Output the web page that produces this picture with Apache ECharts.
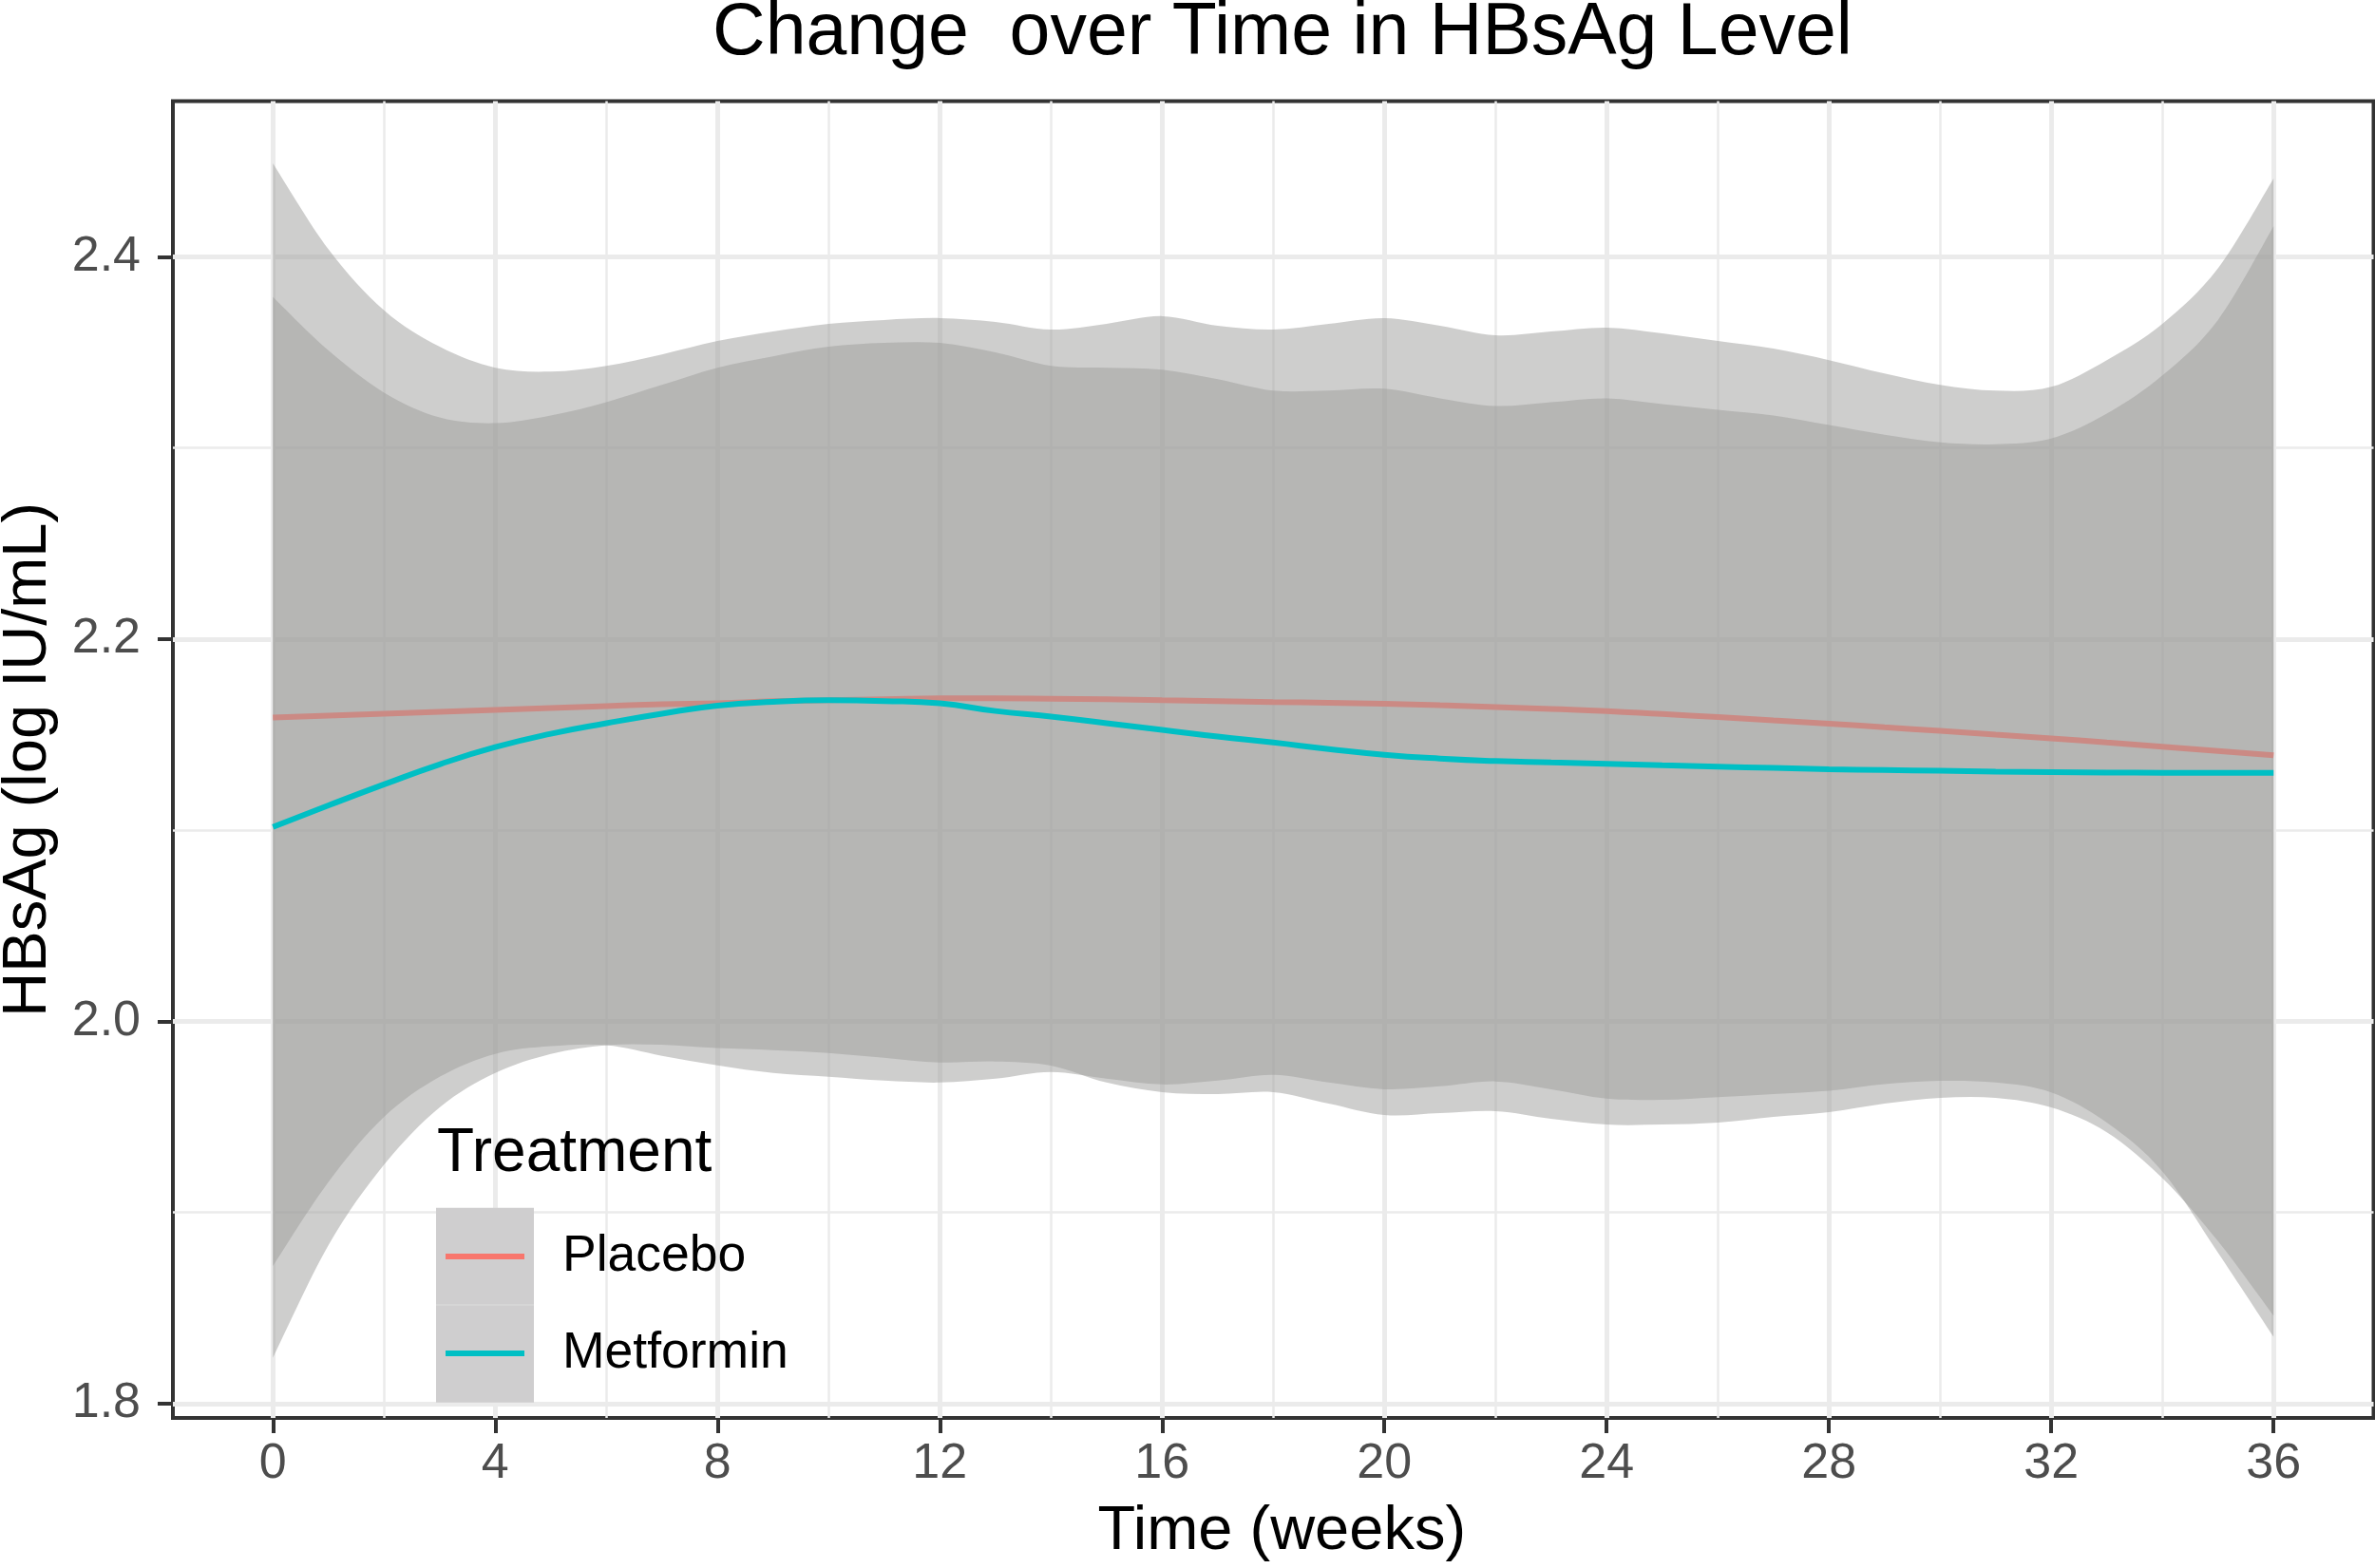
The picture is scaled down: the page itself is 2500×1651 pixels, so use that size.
<!DOCTYPE html>
<html>
<head>
<meta charset="utf-8">
<script src="https://cdn.jsdelivr.net/npm/echarts@6.0.0/dist/echarts.min.js"></script>
<style>
html,body{margin:0;padding:0;background:#ffffff;}
#chart{width:2500px;height:1651px;}
</style>
</head>
<body>
<div id="chart"></div>
<script>
// ---- data ----
const weeks = [0,1,2,3,4,5,6,7,8,9,10,11,12,13,14,15,16,17,18,19,20,21,22,23,24,25,26,27,28,29,30,31,32,33,34,35,36];

const placeboLine = [2.159,2.160,2.161,2.162,2.163,2.164,2.165,2.166,2.1665,2.1675,2.168,2.1685,2.169,2.169,2.1688,2.1685,2.168,2.1676,2.1671,2.1667,2.1662,2.1654,2.1645,2.1635,2.1624,2.1608,2.1592,2.1575,2.1558,2.1539,2.152,2.150,2.1481,2.1459,2.1437,2.1415,2.1392];
const placeboUpper = [2.449,2.404,2.372,2.353,2.342,2.340,2.343,2.349,2.356,2.361,2.365,2.367,2.368,2.366,2.362,2.365,2.369,2.364,2.362,2.365,2.368,2.364,2.359,2.361,2.363,2.360,2.356,2.352,2.346,2.339,2.333,2.330,2.332,2.346,2.365,2.394,2.441];
const placeboLower = [1.872,1.916,1.950,1.971,1.983,1.987,1.9875,1.982,1.977,1.973,1.971,1.969,1.968,1.970,1.9735,1.970,1.967,1.969,1.972,1.968,1.9645,1.966,1.9686,1.9645,1.9596,1.959,1.9604,1.962,1.9637,1.9672,1.9689,1.968,1.9628,1.947,1.9215,1.879,1.835];

const metforminLine = [2.1017,2.113,2.124,2.1345,2.1435,2.1505,2.156,2.161,2.1652,2.1672,2.168,2.1676,2.1664,2.1624,2.1595,2.156,2.1525,2.149,2.1459,2.1425,2.1395,2.1375,2.1362,2.1355,2.1348,2.134,2.1333,2.1326,2.1319,2.1315,2.1311,2.1307,2.1304,2.1302,2.1301,2.130,2.130];
const metforminUpper = [2.379,2.351,2.329,2.316,2.313,2.317,2.324,2.333,2.342,2.348,2.353,2.355,2.355,2.350,2.343,2.342,2.341,2.336,2.330,2.330,2.331,2.326,2.322,2.324,2.326,2.323,2.320,2.317,2.312,2.307,2.303,2.302,2.305,2.318,2.338,2.367,2.416];
const metforminLower = [1.824,1.883,1.925,1.955,1.973,1.983,1.9876,1.9878,1.986,1.985,1.9835,1.981,1.9785,1.979,1.9769,1.968,1.963,1.962,1.963,1.957,1.951,1.952,1.953,1.949,1.946,1.946,1.947,1.950,1.9525,1.957,1.960,1.960,1.955,1.942,1.918,1.885,1.846];

const groups = ['Placebo', 'Metformin'];
const xMajorTicks = [0,4,8,12,16,20,24,28,32,36];
const xMinorTicks = [2,6,10,14,18,22,26,30,34];
const yMajorTicks = [1.8,2.0,2.2,2.4];
const yMinorTicks = [1.9,2.1,2.3];

// ---- styling ----
const FONT = '"Liberation Sans", Arial, Helvetica, sans-serif';
const RIBBON = 'rgba(158,157,156,0.5)';
const COLORS = {Placebo: '#F8766D', Metformin: '#00BFC4'};

function pairs(ys) { return weeks.map((w, i) => [w, ys[i]]); }

// smooth (Catmull-Rom) outline through the projected points
function splinePath(pts, first) {
  let d = (first ? 'M' : 'L') + pts[0][0] + ',' + pts[0][1];
  for (let i = 0; i < pts.length - 1; i++) {
    const p0 = pts[Math.max(i - 1, 0)], p1 = pts[i], p2 = pts[i + 1], p3 = pts[Math.min(i + 2, pts.length - 1)];
    const c1x = p1[0] + (p2[0] - p0[0]) / 6, c1y = p1[1] + (p2[1] - p0[1]) / 6;
    const c2x = p2[0] - (p3[0] - p1[0]) / 6, c2y = p2[1] - (p3[1] - p1[1]) / 6;
    d += 'C' + c1x + ',' + c1y + ',' + c2x + ',' + c2y + ',' + p2[0] + ',' + p2[1];
  }
  return d;
}

function ribbonSeries(name, lo, hi, z) {
  return {
    name: name + ' CI', type: 'custom', silent: true, z: z,
    data: [[weeks[0], lo[0]]],
    encode: {x: 0, y: 1},
    renderItem: function (params, api) {
      const top = weeks.map((w, i) => api.coord([w, hi[i]]));
      const bot = weeks.map((w, i) => api.coord([w, lo[i]])).reverse();
      const d = splinePath(top, true) + splinePath(bot, false) + 'Z';
      return {type: 'path', shape: {pathData: d}, style: {fill: RIBBON, stroke: null}};
    }
  };
}

function lineSeries(name, line, z) {
  return {
    name: name, type: 'line', data: pairs(line), symbol: 'none', smooth: true, silent: true, z: z,
    color: COLORS[name],
    lineStyle: {color: COLORS[name], width: 6},
    itemStyle: {color: COLORS[name]},
    emphasis: {disabled: true}
  };
}

const chart = echarts.init(document.getElementById('chart'), null, {renderer: 'canvas', width: 2500, height: 1651});

const option = {
  animation: false,
  backgroundColor: '#ffffff',
  title: [
    {
      text: 'Change  over Time in HBsAg Level',
      left: 1350, top: -3, textAlign: 'center', textVerticalAlign: 'top', padding: 0,
      textStyle: {fontSize: 77, fontWeight: 'normal', color: '#000000', fontFamily: FONT}
    },
    {
      text: 'Treatment',
      left: 460, top: 1183, textAlign: 'left', textVerticalAlign: 'top', padding: 0,
      textStyle: {fontSize: 64, fontWeight: 'normal', color: '#000000', fontFamily: FONT}
    }
  ],
  grid: {
    left: 182, right: 1.5, top: 106.5, bottom: 158,
    containLabel: false, outerBoundsMode: 'none',
    show: true, backgroundColor: '#ffffff', borderColor: '#333333', borderWidth: 4
  },
  xAxis: [
    {
      type: 'value', min: -1.8, max: 37.8,
      axisLine: {show: false, onZero: false},
      axisTick: {show: true, length: 16, lineStyle: {color: '#333333', width: 4}, customValues: xMajorTicks},
      axisLabel: {show: true, customValues: xMajorTicks, margin: 23, fontSize: 52, color: '#4D4D4D', fontFamily: FONT},
      splitLine: {show: true, lineStyle: {color: '#EBEBEB', width: 5}},
      name: 'Time (weeks)', nameLocation: 'middle', nameGap: 88,
      nameTextStyle: {fontSize: 65, color: '#000000', fontFamily: FONT, padding: [0, 0, 0, 18]}
    },
    {
      type: 'value', min: -1.8, max: 37.8, position: 'bottom',
      axisLine: {show: false, onZero: false},
      axisTick: {show: false, customValues: xMinorTicks},
      axisLabel: {show: false, customValues: xMinorTicks},
      splitLine: {show: true, lineStyle: {color: '#EBEBEB', width: 2.5}}
    }
  ],
  yAxis: [
    {
      type: 'value', min: 1.7925, max: 2.4815,
      axisLine: {show: false, onZero: false},
      axisTick: {show: true, length: 16, lineStyle: {color: '#333333', width: 4}, customValues: yMajorTicks},
      axisLabel: {show: true, customValues: yMajorTicks, margin: 34, fontSize: 52, color: '#4D4D4D', fontFamily: FONT,
                  formatter: v => Number(v).toFixed(1)},
      splitLine: {show: true, lineStyle: {color: '#EBEBEB', width: 5}},
      name: 'HBsAg (log IU/mL)', nameLocation: 'middle', nameGap: 119, nameRotate: 90,
      nameTextStyle: {fontSize: 65, color: '#000000', fontFamily: FONT}
    },
    {
      type: 'value', min: 1.7925, max: 2.4815, position: 'left',
      axisLine: {show: false, onZero: false},
      axisTick: {show: false, customValues: yMinorTicks},
      axisLabel: {show: false, customValues: yMinorTicks},
      splitLine: {show: true, lineStyle: {color: '#EBEBEB', width: 2.5}}
    }
  ],
  legend: {
    data: groups, orient: 'vertical', left: 469, top: 1272, padding: 0, itemGap: 0,
    itemWidth: 83, itemHeight: 6, icon: 'rect', symbolKeepAspect: false,
    itemStyle: {borderWidth: 0},
    textStyle: {fontSize: 53.5, color: '#000000', fontFamily: FONT, lineHeight: 86, padding: [16, 0, 0, 35]},
    selectedMode: false, z: 9
  },
  graphic: {
    elements: [
      {type: 'rect', z: 8, silent: true, shape: {x: 459, y: 1271.7, width: 103, height: 205}, style: {fill: '#CFCECF'}},
      {type: 'line', z: 8, silent: true, shape: {x1: 459, y1: 1374, x2: 562, y2: 1374}, style: {stroke: '#D8D8D8', lineWidth: 1.5}}
    ]
  },
  series: [
    ribbonSeries('Placebo', placeboLower, placeboUpper, 2),
    lineSeries('Placebo', placeboLine, 3),
    ribbonSeries('Metformin', metforminLower, metforminUpper, 4),
    lineSeries('Metformin', metforminLine, 5)
  ]
};

chart.setOption(option);
</script>
</body>
</html>
